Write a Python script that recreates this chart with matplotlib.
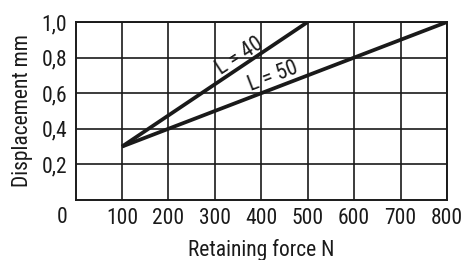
import matplotlib
matplotlib.use("Agg")
import matplotlib.pyplot as plt
from matplotlib import font_manager

# pick a condensed sans if one is installed
entries = font_manager.fontManager.ttflist
names = sorted(set(f.name for f in entries))
cond = None
for pref in ['Liberation Sans Narrow', 'Roboto Condensed', 'Open Sans Condensed', 'DejaVu Sans Condensed']:
    if pref in names:
        cond = pref
        break
stretch = 'normal'
if cond is None:
    for f in entries:
        if f.name == 'DejaVu Sans' and str(f.stretch) in ('condensed', 'semi-condensed'):
            cond = 'DejaVu Sans'
            stretch = 'condensed'
            break
if cond is None:
    fam = 'Liberation Sans'
    fs = 13.5
else:
    fam = cond
    fs = 15.5
plt.rcParams['font.family'] = [fam, 'DejaVu Sans']
plt.rcParams['font.stretch'] = stretch

x_ticks = [100, 200, 300, 400, 500, 600, 700, 800]
y_ticks = [0.2, 0.4, 0.6, 0.8, 1.0]
y_ticklabels = ['0,2', '0,4', '0,6', '0,8', '1,0']

force_L40 = [100, 500]
disp_L40 = [0.3, 1.0]
force_L50 = [100, 800]
disp_L50 = [0.3, 1.0]

ink = '#1a1a1a'
fig = plt.figure(figsize=(4.62, 2.6), dpi=100)
ax = fig.add_axes([75.5/462, 60/260, 371.5/462, 178/260])
ax.set_xlim(0, 800)
ax.set_ylim(0, 1.0)
ax.set_xticks(x_ticks)
ax.set_yticks(y_ticks)
ax.set_yticklabels(y_ticklabels)
ax.tick_params(length=0, labelsize=fs, pad=6, colors=ink)
ax.grid(True, color=ink, linewidth=1.2)
ax.set_axisbelow(True)
for s in ax.spines.values():
    s.set_linewidth(1.4)
    s.set_color(ink)

ax.plot(force_L40, disp_L40, color=ink, linewidth=2.7, solid_capstyle='butt')
ax.plot(force_L50, disp_L50, color=ink, linewidth=2.7, solid_capstyle='butt')

ax.text(354, 0.805, 'L = 40', rotation=33, fontsize=fs, ha='center', va='center',
        color=ink, rotation_mode='anchor')
ax.text(426, 0.695, 'L = 50', rotation=21, fontsize=fs, ha='center', va='center',
        color=ink, rotation_mode='anchor')

ax.text(-29, -0.1, '0', fontsize=fs, ha='center', va='center', color=ink, clip_on=False)

ax.set_xlabel('Retaining force N', fontsize=fs, labelpad=7, color=ink)
ax.set_ylabel('Displacement mm', fontsize=fs, labelpad=6, color=ink)

fig.savefig('out.png', dpi=100)
